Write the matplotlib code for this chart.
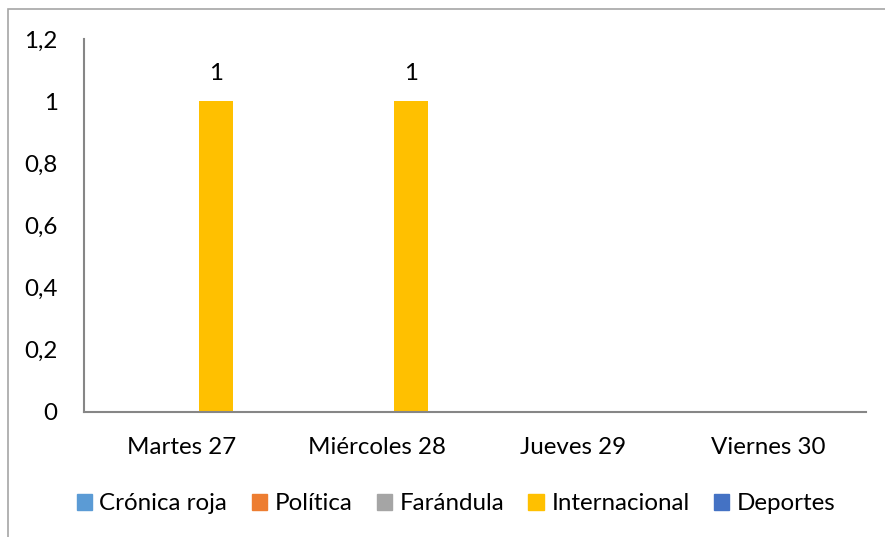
import matplotlib.pyplot as plt
import matplotlib.patches as mpatches
import numpy as np

# datos
dias = ["Martes 27", "Miércoles 28", "Jueves 29", "Viernes 30"]
series = ["Crónica roja", "Política", "Farándula", "Internacional", "Deportes"]
cronica_roja = [np.nan, np.nan, np.nan, np.nan]
politica = [np.nan, np.nan, np.nan, np.nan]
farandula = [np.nan, np.nan, np.nan, np.nan]
internacional = [1, 1, np.nan, np.nan]
deportes = [np.nan, np.nan, np.nan, np.nan]
yticks = [0, 0.2, 0.4, 0.6, 0.8, 1, 1.2]

colores = ["#5B9BD5", "#ED7D31", "#A5A5A5", "#FFC000", "#4472C4"]
valores = [cronica_roja, politica, farandula, internacional, deportes]

plt.rcParams['font.family'] = ['Lato', 'DejaVu Sans']
fs = 17.4

fig = plt.figure(figsize=(8.85, 5.37), dpi=100)
ax = fig.add_axes([84/885, 1 - 412/537, (866-84)/885, (412-39)/537])

# marco del grafico
fig.patches.append(mpatches.Rectangle((8/885, -0.1), 1.2, 1 - 9/537 + 0.1,
                                      transform=fig.transFigure, fill=False,
                                      edgecolor="#a6a6a6", linewidth=1.2))

x = np.arange(len(dias))
n = len(series)
bw = 1 / (n + 0.75)
for i, (nombre, vals, c) in enumerate(zip(series, valores, colores)):
    pos = x - 0.5 + 0.375 * bw + (i + 0.5) * bw
    vals = np.array(vals, dtype=float)
    ax.bar(pos, np.nan_to_num(vals), width=bw, color=c, label=nombre)
    for p, v in zip(pos, vals):
        if np.isfinite(v):
            ax.annotate(f"{v:g}".replace(".", ","), (p, v), xytext=(0, 12),
                        textcoords="offset points", ha="center", va="bottom",
                        fontsize=fs)

ax.set_xlim(-0.5, len(dias) - 0.5)
ax.set_ylim(0, 1.2)
ax.set_yticks(yticks)
ax.set_yticklabels([f"{t:g}".replace(".", ",") for t in yticks], fontsize=fs)
ax.set_xticks(x)
ax.set_xticklabels(dias, fontsize=fs)
ax.tick_params(axis="y", length=0, pad=19)
ax.tick_params(axis="x", length=0, pad=18)
for s in ["top", "right"]:
    ax.spines[s].set_visible(False)
for s in ["left", "bottom"]:
    ax.spines[s].set_color("#868686")
    ax.spines[s].set_linewidth(1.5)

handles = [mpatches.Patch(color=c) for c in colores]
fig.legend(handles, series, loc="center", bbox_to_anchor=(456/885, 1 - 504/537),
           ncol=5, frameon=False, fontsize=fs, handlelength=0.65, handleheight=0.65,
           handletextpad=0.3, columnspacing=1.0)

plt.savefig("out.png", dpi=100)
